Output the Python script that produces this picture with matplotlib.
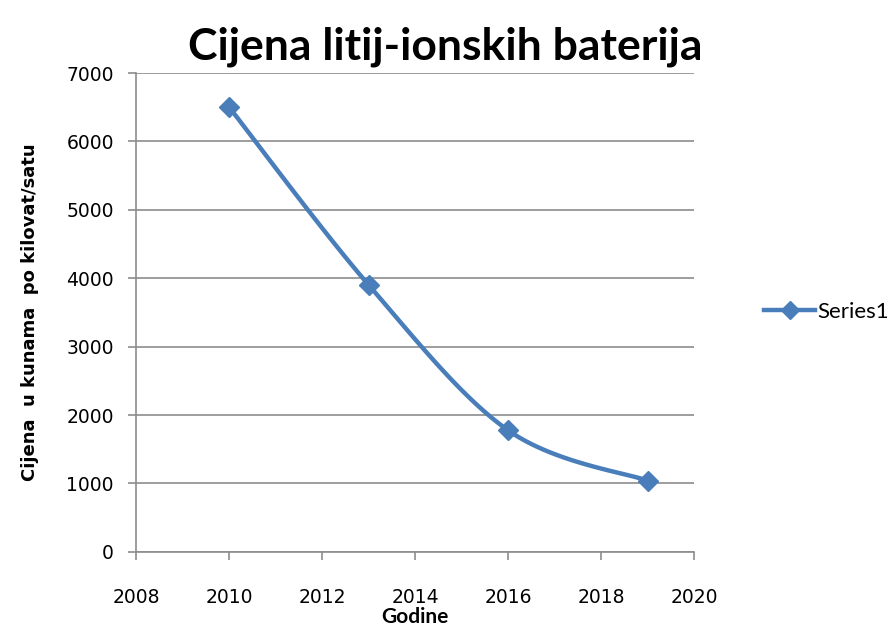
import numpy as np
import matplotlib
matplotlib.use('Agg')
import matplotlib.pyplot as plt
from matplotlib.lines import Line2D

years = [2010, 2013, 2016, 2019]
prices = [6500, 3900, 1775, 1040]

title = "Cijena litij-ionskih baterija"
xlabel = "Godine"
ylabel = "Cijena  u kunama  po kilovat/satu"
series_name = "Series1"
color = "#4A7EBB"


def smooth(xs, ys, n=40):
    # Excel style smoothing: cubic bezier with catmull-rom tangents
    px = np.array(xs, float)
    py = np.array(ys, float)
    px = np.concatenate([[px[0]], px, [px[-1]]])
    py = np.concatenate([[py[0]], py, [py[-1]]])
    out_x, out_y = [], []
    t = np.linspace(0, 1, n)
    for i in range(1, len(px) - 2):
        p0 = np.array([px[i], py[i]])
        p3 = np.array([px[i + 1], py[i + 1]])
        p1 = p0 + (np.array([px[i + 1], py[i + 1]]) - np.array([px[i - 1], py[i - 1]])) / 6
        p2 = p3 - (np.array([px[i + 2], py[i + 2]]) - np.array([px[i], py[i]])) / 6
        b = ((1 - t) ** 3)[:, None] * p0 + (3 * (1 - t) ** 2 * t)[:, None] * p1 \
            + (3 * (1 - t) * t ** 2)[:, None] * p2 + (t ** 3)[:, None] * p3
        out_x.extend(b[:, 0])
        out_y.extend(b[:, 1])
    return out_x, out_y


fig = plt.figure(figsize=(8.96, 6.30), dpi=100)
ax = fig.add_axes([0.152, 0.124, 0.623, 0.760])

sx, sy = smooth(years, prices)
ax.plot(sx, sy, color=color, lw=3.2, solid_capstyle='round', zorder=3)
ax.plot(years, prices, ls='none', marker='D', ms=10, color=color, zorder=4)

ax.set_xlim(2008, 2020)
ax.set_ylim(0, 7000)
ax.set_xticks(range(2008, 2021, 2))
ax.set_yticks(range(0, 7001, 1000))
ax.grid(axis='y', color='#8c8c8c', lw=1.2)
ax.set_axisbelow(True)
for s in ['top', 'right']:
    ax.spines[s].set_visible(False)
for s in ['left', 'bottom']:
    ax.spines[s].set_color('#8c8c8c')
    ax.spines[s].set_linewidth(1.2)
ax.tick_params(axis='both', colors='#8c8c8c', length=6, width=1.2,
               labelcolor='black', labelsize=13.5)
ax.tick_params(axis='x', pad=20)
ax.tick_params(axis='y', pad=10)

fig.text(0.497, 0.905, title, fontsize=32, fontweight='bold', family='Lato',
         ha='center', va='baseline')
ax.set_xlabel(xlabel, fontsize=15, fontweight='bold', family='Lato', labelpad=0)
ax.set_ylabel(ylabel, fontsize=13, fontweight='bold', family='DejaVu Sans', labelpad=20)

handle = Line2D([], [], color=color, lw=3.2, marker='D', ms=9)
fig.legend([handle], [series_name], loc='center left', bbox_to_anchor=(0.843, 0.505),
           frameon=False, prop={'family': 'Lato', 'size': 16}, handlelength=2.3,
           handletextpad=0.1, borderaxespad=0)

fig.savefig('out.png', dpi=100)
